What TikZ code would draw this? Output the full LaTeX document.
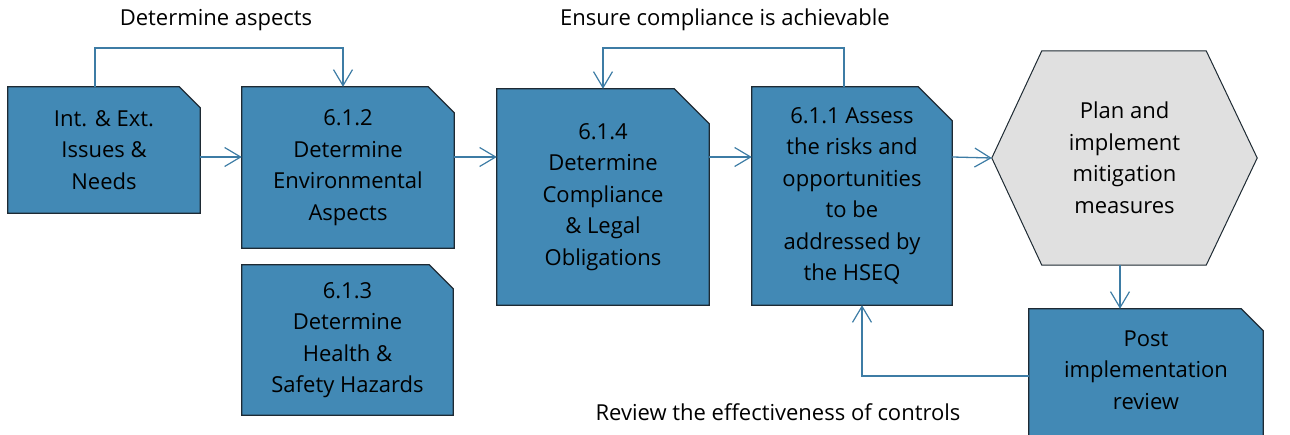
\documentclass[tikz,border=0pt]{standalone}
\usepackage{fontspec}
\setmainfont{Open Sans}
\usetikzlibrary{shapes,arrows.meta,calc,backgrounds}
\definecolor{boxblue}{HTML}{4289B5}
\definecolor{boxedge}{HTML}{1E2A33}
\definecolor{linkblue}{HTML}{3D7CA5}
\definecolor{hexgrey}{HTML}{E0E0E0}
\tikzset{
	x=1pt, y=-1pt,
	treenode/.style = {align=center, inner sep=0pt, text centered, font=\fontsize{22}{31.5}\selectfont},
	box_n/.style = {treenode, rectangle},
	box_fill/.style = {draw=boxedge, fill=boxblue, line width=1.2pt},
	hex_fill/.style = {draw=boxedge, fill=hexgrey, line width=1pt},
	link/.style = {draw=linkblue, line width=1.3pt, -{Straight Barb[length=16pt,width=19pt,line width=1.2pt]}},
	lab/.style = {font=\fontsize{22}{26}\selectfont, inner sep=0pt}
}
% box with a cut top right corner; #1 = extra depth below, #2 = node, #3 = cut
\newcommand{\docshape}[3][0pt]{
	\filldraw [box_fill] (#2.north west) -- ([xshift=-#3]#2.north east) -- ([yshift=-#3]#2.north east)
		-- ([yshift=-#1]#2.south east) -- ([yshift=-#1]#2.south west) -- cycle;
}
\begin{document}
\begin{tikzpicture}
	\useasboundingbox (0,0) rectangle (1290,435);
	\node [box_n, minimum width=192pt, minimum height=126pt] (issues) at (104,150) {Int. \& Ext.\\Issues \&\\Needs};
	\node [box_n, minimum width=212pt, minimum height=161pt] (env) at (348,167.5) {6.1.2\\Determine\\Environmental\\Aspects};
	\node [box_n, minimum width=211pt, minimum height=150pt] (hs) at (347.5,340) {6.1.3\\Determine\\Health \&\\Safety Hazards};
	\node [box_n, minimum width=212pt, minimum height=216pt] (legal) at (603,197) {6.1.4\\Determine\\Compliance\\\& Legal\\Obligations};
	\node [box_n, minimum width=200pt, minimum height=218pt] (risk) at (852,196) {6.1.1 Assess\\the risks and\\opportunities\\to be\\addressed by\\the HSEQ};
	\node [box_n, minimum width=265pt, minimum height=214pt] (plan) at (1124.5,158) {Plan and\\implement\\mitigation\\measures};
	\node [box_n, minimum width=234pt, minimum height=122pt] (post) at (1146,370) {Post\\implementation\\review};
	\begin{scope}[on background layer]
		\docshape{issues}{21pt}
		\docshape{env}{26pt}
		\docshape{hs}{24pt}
		\docshape{legal}{35pt}
		\docshape{risk}{34pt}
		\docshape[30pt]{post}{22pt}
		\filldraw [hex_fill] (plan.west) -- ([xshift=50pt]plan.north west) -- ([xshift=-51pt]plan.north east)
			-- (plan.east) -- ([xshift=-51pt]plan.south east) -- ([xshift=50pt]plan.south west) -- cycle;
	\end{scope}
	% labels
	\node [lab] (l_aspects) at (216,20) {Determine aspects};
	\node [lab] (l_comply) at (725,20) {Ensure compliance is achievable};
	\node [lab] (l_review) at (778,412) {Review the effectiveness of controls};
	% connectors
	\coordinate (row) at (0,157);
	\coordinate (top) at (0,48);
	\draw [link] (issues.east |- row) -- (env.west |- row);
	\draw [link] (env.east |- row) -- (legal.west |- row);
	\draw [link] (legal.east |- row) -- (risk.west |- row);
	\draw [link] (risk.east |- row) -- (plan.west);
	\draw [link] ([xshift=-9pt]issues.north) -- ([xshift=-9pt]issues.north |- top) -| ([xshift=-5pt]env.north);
	\draw [link] ([xshift=-8pt]risk.north) -- ([xshift=-8pt]risk.north |- top) -| (legal.north);
	\draw [link] ([xshift=-4.5pt]plan.south) -- ([xshift=-4.5pt]plan.south |- post.north);
	\draw [link] (post.west |- 0,376) -| ([xshift=10pt]risk.south);
\end{tikzpicture}
\end{document}
